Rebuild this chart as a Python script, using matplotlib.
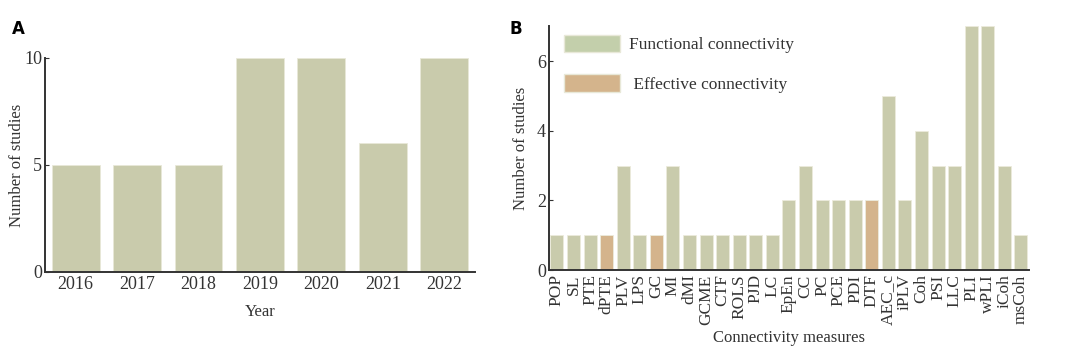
import matplotlib
matplotlib.use('Agg')
import matplotlib.pyplot as plt
from matplotlib.patches import Patch

years = ['2016', '2017', '2018', '2019', '2020', '2021', '2022']
year_counts = [5, 5, 5, 10, 10, 6, 10]

measures = ['POP', 'SL', 'PTE', 'dPTE', 'PLV', 'LPS', 'GC', 'MI', 'dMI', 'GCME',
            'CTF', 'ROLS', 'PJD', 'LC', 'EpEn', 'CC', 'PC', 'PCE', 'PDI', 'DTF',
            'AEC_c', 'iPLV', 'Coh', 'PSI', 'LLC', 'PLI', 'wPLI', 'iCoh', 'msCoh']
measure_counts = [1, 1, 1, 1, 3, 1, 1, 3, 1, 1,
                  1, 1, 1, 1, 2, 3, 2, 2, 2, 2,
                  5, 2, 4, 3, 3, 7, 7, 3, 1]
effective = ['dPTE', 'GC', 'DTF']

FUNC_COLOR = '#c9cbac'
FUNC_LEGEND = '#c3cfab'
EFF_COLOR = '#d4b48c'
AXIS_COLOR = '#333333'
TEXT_COLOR = '#333333'

plt.rcParams['font.family'] = ['Liberation Serif', 'DejaVu Serif']

fig = plt.figure(figsize=(10.8, 3.55), dpi=100)

# パネルA
ax1 = fig.add_axes([0.0417, 0.234, 0.398, 0.603])
ax1.bar(range(len(years)), year_counts, width=0.78, color=FUNC_COLOR,
        edgecolor='#e8e8d8', linewidth=0.6)
ax1.set_xlim(-0.5, 6.5)
ax1.set_ylim(0, 10)
ax1.set_yticks([0, 5, 10])
ax1.set_xticks(range(len(years)))
ax1.set_xticklabels(years)
ax1.set_xlabel('Year', fontsize=12, color=TEXT_COLOR, labelpad=8)
ax1.set_ylabel('Number of studies', fontsize=12, color=TEXT_COLOR)
ax1.yaxis.set_label_coords(-0.047, 0.5)

# パネルB
ax2 = fig.add_axes([0.508, 0.239, 0.445, 0.687])
colors = [EFF_COLOR if m in effective else FUNC_COLOR for m in measures]
ax2.bar(range(len(measures)), measure_counts, width=0.78, color=colors,
        edgecolor='#ecebdc', linewidth=0.6)
ax2.set_xlim(-0.5, 28.5)
ax2.set_ylim(0, 7)
ax2.set_yticks([0, 2, 4, 6])
ax2.set_xticks(range(len(measures)))
ax2.set_xticklabels(measures, rotation=90, fontsize=12.5)
ax2.set_xlabel('Connectivity measures', fontsize=12, color=TEXT_COLOR, labelpad=3)
ax2.set_ylabel('Number of studies', fontsize=12, color=TEXT_COLOR)
ax2.yaxis.set_label_coords(-0.04, 0.5)

handles = [Patch(facecolor=FUNC_LEGEND, edgecolor='#e8e8d8'),
           Patch(facecolor=EFF_COLOR, edgecolor='#e8e8d8')]
ax2.legend(handles, ['Functional connectivity', ' Effective connectivity'],
           loc='upper left', bbox_to_anchor=(0.0, 1.03), frameon=False,
           fontsize=12.5, handlelength=3.2, handleheight=1.2,
           labelspacing=1.2, handletextpad=0.5, labelcolor=TEXT_COLOR)

for ax in (ax1, ax2):
    for s in ('top', 'right'):
        ax.spines[s].set_visible(False)
    for s in ('left', 'bottom'):
        ax.spines[s].set_color(AXIS_COLOR)
        ax.spines[s].set_linewidth(1.4)
    ax.tick_params(axis='y', direction='in', length=3, labelsize=13,
                   colors=AXIS_COLOR, labelcolor=TEXT_COLOR, pad=2)
    ax.tick_params(axis='x', length=0, colors=AXIS_COLOR, labelcolor=TEXT_COLOR,
                   pad=3)
ax1.tick_params(axis='x', labelsize=13)

fig.text(0.011, 0.905, 'A', fontsize=12, fontweight='bold', family='DejaVu Sans')
fig.text(0.472, 0.905, 'B', fontsize=12, fontweight='bold', family='DejaVu Sans')

fig.savefig('out.png', dpi=100)
